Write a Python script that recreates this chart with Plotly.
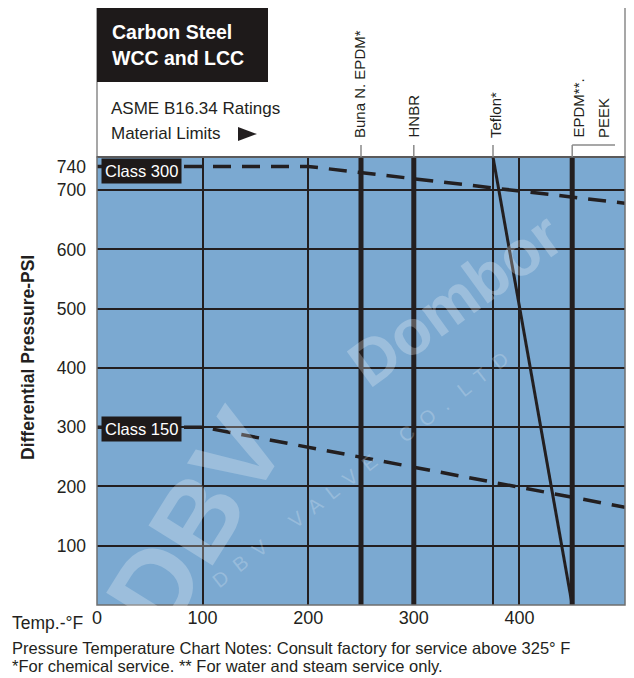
"""Pressure-temperature chart for carbon steel WCC / LCC valves (ASME B16.34)."""
import plotly.graph_objects as go

# ---- data ----
C300_TEMP = [0, 200, 500]
C300_PSI = [740, 740, 678]
C150_TEMP = [0, 100, 500]
C150_PSI = [300, 300, 165]

LIMIT_NAMES = ["Buna N. EPDM*", "HNBR", "EPDM**."]
LIMIT_TEMP = [250, 300, 450]
TEFLON_TEMP = [375, 450]
TEFLON_PSI = [756, 0]

X_TICKS = [0, 100, 200, 300, 375, 400, 500]
X_TICKTEXT = ["0", "100", "200", "300", "", "400", "500"]
Y_TICKS = [100, 200, 300, 400, 500, 600, 700, 740]
Y_GRID = [100, 200, 300, 400, 500, 600, 700]
Y_TOP = 756

INK = "#231f20"
BLUE = "#7ba9d1"
FONT = "Liberation Sans, Arial, sans-serif"

# plot box in page pixels; the page body adds an 8px offset
OFF = 8
L, R, T, B = 97, 625, 157, 605
W, H = 634 - OFF, 678 - OFF


def px(x):
    return (x - L) / (R - L)


def py(y):
    return (B - y) / (B - T)


fig = go.Figure()

# material limit verticals
for t in LIMIT_TEMP:
    fig.add_trace(go.Scatter(x=[t, t], y=[0, Y_TOP], mode="lines",
                             line=dict(color=INK, width=5), hoverinfo="skip"))
fig.add_trace(go.Scatter(x=TEFLON_TEMP, y=TEFLON_PSI, mode="lines",
                         line=dict(color=INK, width=3), hoverinfo="skip"))

# class ratings
for xs, ys in [(C300_TEMP, C300_PSI), (C150_TEMP, C150_PSI)]:
    fig.add_trace(go.Scatter(x=xs, y=ys, mode="lines",
                             line=dict(color=INK, width=3.5, dash="18px,11px"),
                             hoverinfo="skip"))

shapes = []
# header box
shapes.append(dict(type="rect", xref="paper", yref="paper", x0=0, x1=1,
                   y0=1, y1=py(5), line=dict(color="#8a8a8a", width=1.5)))
shapes.append(dict(type="rect", xref="paper", yref="paper", x0=0, x1=px(268),
                   y0=py(82), y1=py(5), fillcolor="#1e1a1a", line=dict(width=0)))
# plot frame
shapes.append(dict(type="line", xref="paper", yref="paper", x0=0, x1=1, y0=1, y1=1,
                   line=dict(color=INK, width=2)))
shapes.append(dict(type="rect", xref="paper", yref="paper", x0=0, x1=1, y0=0, y1=1,
                   line=dict(color="#6f6f6f", width=1.5)))
# leader lines to material labels
for t in [250, 300, 375]:
    xp = px(L + t * (R - L) / 500)
    shapes.append(dict(type="line", xref="paper", yref="paper", x0=xp, x1=xp,
                       y0=1, y1=py(145), line=dict(color="#8a8a8a", width=1.5)))
xe = px(L + 450 * (R - L) / 500)
shapes.append(dict(type="line", xref="paper", yref="paper", x0=xe, x1=xe,
                   y0=1, y1=py(145), line=dict(color="#8a8a8a", width=1.5)))
shapes.append(dict(type="line", xref="paper", yref="paper", x0=xe, x1=px(615),
                   y0=py(145), y1=py(145), line=dict(color="#8a8a8a", width=1.5)))
# material limits arrow
shapes.append(dict(type="path", xref="paper", yref="paper",
                   path=f"M {px(238)},{py(127)} L {px(257)},{py(134)} L {px(238)},{py(141)} Z",
                   fillcolor=INK, line=dict(width=0)))

ann = []


def text(x, y, s, size=15, color=INK, bold=False, xanchor="left", yanchor="middle",
         angle=0, **kw):
    if bold:
        s = f"<b>{s}</b>"
    ann.append(dict(x=px(x), y=py(y), xref="paper", yref="paper", text=s,
                    showarrow=False, xanchor=xanchor, yanchor=yanchor, textangle=angle,
                    font=dict(family=FONT, size=size, color=color), **kw))


# watermark
WM = "rgba(255,255,255,0.25)"
text(195, 520, "DBV", size=110, color=WM, bold=True, xanchor="center", angle=-58)
text(455, 300, "Dombor", size=64, color=WM, bold=True, xanchor="center", angle=-36)
text(360, 470, "D  B  V      V  A  L  V  E      C  O  .   L  T  D", size=20,
     color="rgba(255,255,255,0.22)", xanchor="center", angle=-38)

text(110, 32, "Carbon Steel", size=19.5, color="white", bold=True)
text(110, 58, "WCC and LCC", size=19.5, color="white", bold=True)
text(109, 108, "ASME B16.34 Ratings", size=17)
text(109, 134, "Material Limits", size=17)

# vertical material labels
for x, s in [(359, "Buna N. EPDM*"), (413, "HNBR"), (495, "Teflon*"),
             (578, "EPDM**."), (603, "PEEK")]:
    text(x, 140, s, size=15, xanchor="center", yanchor="bottom", angle=-90)

text(101, 171, "Class 300", size=16.5, color="white", bgcolor="#1e1a1a", borderpad=3)
text(101, 429, "Class 150", size=16.5, color="white", bgcolor="#1e1a1a", borderpad=3)

text(28, 358, "Differential Pressure-PSI", size=17.5, bold=True, xanchor="center",
     angle=-90)
text(10, 623, "Temp.-°F", size=17.5)
text(10, 648, "Pressure Temperature Chart Notes: Consult factory for service above 325° F",
     size=16.5)
text(10, 666, "*For chemical service. ** For water and steam service only.", size=16.5)

fig.update_layout(
    width=W, height=H,
    margin=dict(l=L - OFF, r=W - (R - OFF), t=T - OFF, b=H - (B - OFF)),
    paper_bgcolor="white", plot_bgcolor=BLUE,
    showlegend=False,
    shapes=shapes, annotations=ann,
    font=dict(family=FONT, color=INK),
)
fig.update_xaxes(range=[0, 500], tickvals=X_TICKS, ticktext=X_TICKTEXT,
                 showgrid=True, gridcolor=INK, gridwidth=1.5, zeroline=False,
                 ticks="", tickfont=dict(size=18, color=INK), fixedrange=True)
fig.update_yaxes(range=[0, Y_TOP], tickvals=Y_TICKS, showgrid=False, zeroline=False,
                 ticks="", ticklabelstandoff=10, tickfont=dict(size=17.5, color=INK),
                 minor=dict(tickvals=Y_GRID, showgrid=True, gridcolor=INK, gridwidth=1.5),
                 fixedrange=True)

fig.write_html("out.html")
